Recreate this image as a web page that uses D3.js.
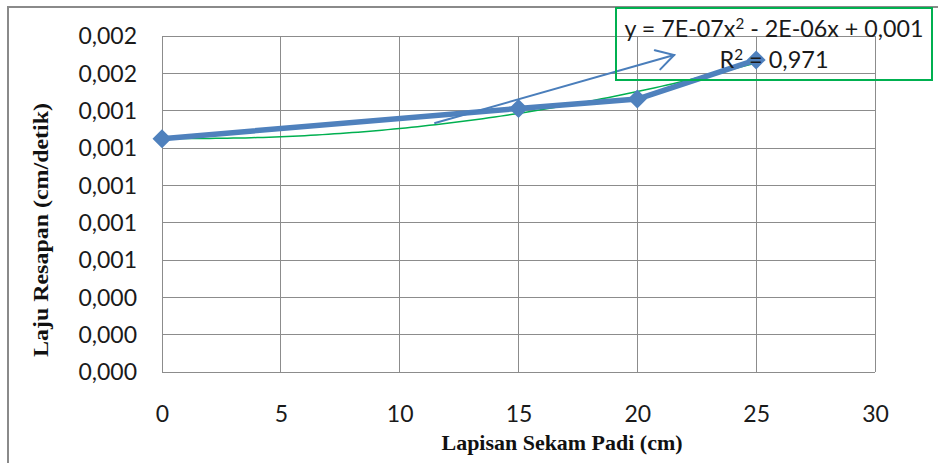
<!DOCTYPE html>
<html>
<head>
<meta charset="utf-8">
<script src="https://cdn.jsdelivr.net/npm/d3@7/dist/d3.min.js"></script>
<style>
  html, body { margin: 0; padding: 0; background: #fff; overflow: hidden; }
  svg { display: block; }
</style>
</head>
<body>
<svg id="chart" width="938" height="463"></svg>
<script>
// Rice-husk layer thickness (cm) vs. infiltration rate (cm/s)
const layerCm = [0, 15, 20, 25];
const rate = [0.001250, 0.001412, 0.001462, 0.001672];

const xTicks = [0, 5, 10, 15, 20, 25, 30];
const yTicks = [0, 0.0002, 0.0004, 0.0006, 0.0008, 0.0010, 0.0012, 0.0014, 0.0016, 0.0018];

const xTitle = "Lapisan Sekam Padi (cm)";
const yTitle = "Laju Resapan (cm/detik)";

// Hand-drawn arrow annotation, in data units [x, y]
const arrowFrom = [11.49, 0.001334];
const arrowTo = [21.55, 0.001698];

const W = 938, H = 463;
const plot = { left: 162, top: 36, right: 875, bottom: 372 };

const svg = d3.select("#chart");

// chart area frame (extends past the right/bottom edges)
svg.append("rect")
  .attr("x", 8).attr("y", 7).attr("width", 1000).attr("height", 600)
  .attr("fill", "none").attr("stroke", "#8a8a8a").attr("stroke-width", 2);

const x = d3.scaleLinear().domain([0, 30]).range([plot.left, plot.right]);
const y = d3.scaleLinear().domain([0, 0.0018]).range([plot.bottom, plot.top]);

const fmtComma = v => v.toFixed(3).replace(".", ",");

// gridlines
const grid = svg.append("g").attr("stroke", "#8c8c8c").attr("stroke-width", 1)
  .attr("shape-rendering", "crispEdges");
grid.selectAll(".gx").data(xTicks).join("line")
  .attr("x1", d => x(d)).attr("x2", d => x(d))
  .attr("y1", plot.top).attr("y2", plot.bottom);
grid.selectAll(".gy").data(yTicks).join("line")
  .attr("x1", plot.left).attr("x2", plot.right)
  .attr("y1", d => y(d)).attr("y2", d => y(d));

// axes (labels only; the grid draws the lines)
const yAxis = d3.axisLeft(y).tickValues(yTicks).tickSize(0).tickPadding(25)
  .tickFormat(fmtComma);
const gy = svg.append("g").attr("transform", `translate(${plot.left},0)`).call(yAxis);
gy.select(".domain").remove();
gy.selectAll("text").attr("font-family", "Lato, sans-serif").attr("font-size", 23)
  .attr("fill", "#1a1a1a").attr("dy", "0.34em");

const xAxis = d3.axisBottom(x).tickValues(xTicks).tickSize(0).tickPadding(34)
  .tickFormat(d3.format("d"));
const gx = svg.append("g").attr("transform", `translate(0,${plot.bottom})`).call(xAxis);
gx.select(".domain").remove();
gx.selectAll("text").attr("font-family", "Lato, sans-serif").attr("font-size", 23)
  .attr("fill", "#1a1a1a");

// axis titles
svg.append("text")
  .attr("x", 562).attr("y", 450)
  .attr("text-anchor", "middle")
  .attr("font-family", "'Liberation Serif', 'Times New Roman', serif")
  .attr("font-weight", "bold").attr("font-size", 21)
  .attr("textLength", 241).attr("lengthAdjust", "spacingAndGlyphs")
  .attr("fill", "#111")
  .text(xTitle);

svg.append("text")
  .attr("transform", "translate(48,230) rotate(-90)")
  .attr("text-anchor", "middle")
  .attr("font-family", "'Liberation Serif', 'Times New Roman', serif")
  .attr("font-weight", "bold").attr("font-size", 21)
  .attr("textLength", 254).attr("lengthAdjust", "spacingAndGlyphs")
  .attr("fill", "#111")
  .text(yTitle);

// least-squares quadratic trendline from the data
function polyFit2(xs, ys) {
  const n = xs.length;
  let s = [0, 0, 0, 0, 0], t = [0, 0, 0];
  for (let i = 0; i < n; i++) {
    for (let k = 0; k <= 4; k++) s[k] += Math.pow(xs[i], k);
    for (let k = 0; k <= 2; k++) t[k] += ys[i] * Math.pow(xs[i], k);
  }
  // solve [[s0 s1 s2][s1 s2 s3][s2 s3 s4]] [c b a] = t
  const M = [[s[0], s[1], s[2], t[0]], [s[1], s[2], s[3], t[1]], [s[2], s[3], s[4], t[2]]];
  for (let i = 0; i < 3; i++) {
    for (let j = i + 1; j < 3; j++) {
      const f = M[j][i] / M[i][i];
      for (let k = i; k < 4; k++) M[j][k] -= f * M[i][k];
    }
  }
  const sol = [0, 0, 0];
  for (let i = 2; i >= 0; i--) {
    let v = M[i][3];
    for (let k = i + 1; k < 3; k++) v -= M[i][k] * sol[k];
    sol[i] = v / M[i][i];
  }
  return { c: sol[0], b: sol[1], a: sol[2] };
}
const fit = polyFit2(layerCm, rate);
const fitFn = v => fit.a * v * v + fit.b * v + fit.c;
const mean = d3.mean(rate);
const ssTot = d3.sum(rate, r => (r - mean) ** 2);
const ssRes = d3.sum(rate, (r, i) => (r - fitFn(layerCm[i])) ** 2);
const r2 = 1 - ssRes / ssTot;

const trendX = d3.range(0, 25.001, 0.25);
svg.append("path")
  .datum(trendX)
  .attr("fill", "none").attr("stroke", "#00b050").attr("stroke-width", 1.5)
  .attr("d", d3.line().x(d => x(d)).y(d => y(fitFn(d))));

// data series
const pts = layerCm.map((v, i) => [v, rate[i]]);
svg.append("path")
  .datum(pts)
  .attr("fill", "none").attr("stroke", "#4f81bd").attr("stroke-width", 5.5)
  .attr("stroke-linejoin", "round")
  .attr("d", d3.line().x(d => x(d[0])).y(d => y(d[1])));

svg.selectAll(".mk").data(pts).join("path")
  .attr("transform", d => `translate(${x(d[0])},${y(d[1])})`)
  .attr("d", "M0,-9.5L9.5,0L0,9.5L-9.5,0Z")
  .attr("fill", "#4f81bd");

// arrow annotation
const ax1 = x(arrowFrom[0]), ay1 = y(arrowFrom[1]);
const ax2 = x(arrowTo[0]), ay2 = y(arrowTo[1]);
const ang = Math.atan2(ay1 - ay2, ax1 - ax2);
const headLen = 20, spread = Math.PI / 6;
const arrow = svg.append("g").attr("stroke", "#4a7ebb").attr("stroke-width", 2)
  .attr("fill", "none").attr("stroke-linecap", "round");
arrow.append("line").attr("x1", ax1).attr("y1", ay1).attr("x2", ax2).attr("y2", ay2);
arrow.append("path")
  .attr("d", `M${ax2 + headLen * Math.cos(ang - spread)},${ay2 + headLen * Math.sin(ang - spread)}` +
             `L${ax2},${ay2}` +
             `L${ax2 + headLen * Math.cos(ang + spread)},${ay2 + headLen * Math.sin(ang + spread)}`);

// trendline equation box
function coef(v) {
  const m = Math.abs(v);
  if (m < 0.001) {
    const [mant, exp] = m.toExponential(0).split("e");
    const e = parseInt(exp, 10);
    return mant + "E" + (e < 0 ? "-" : "+") + String(Math.abs(e)).padStart(2, "0");
  }
  return fmtComma(m);
}
const sgn = v => (v < 0 ? " - " : " + ");

const box = { x: 616, y: 8, w: 316, h: 72 };
svg.append("rect")
  .attr("x", box.x).attr("y", box.y).attr("width", box.w).attr("height", box.h)
  .attr("fill", "none").attr("stroke", "#00b050").attr("stroke-width", 2);

const eq = svg.append("g").attr("font-family", "Lato, sans-serif").attr("font-size", 23)
  .attr("fill", "#1a1a1a").attr("text-anchor", "middle");
const line1 = eq.append("text").attr("x", box.x + box.w / 2).attr("y", 37)
  .attr("textLength", 299).attr("lengthAdjust", "spacingAndGlyphs");
line1.append("tspan").text(`y = ${fit.a < 0 ? "-" : ""}${coef(fit.a)}x`);
line1.append("tspan").attr("dy", -8).attr("font-size", 15).text("2");
line1.append("tspan").attr("dy", 8).text(`${sgn(fit.b)}${coef(fit.b)}x${sgn(fit.c)}${coef(fit.c)}`);

const line2 = eq.append("text").attr("x", box.x + box.w / 2).attr("y", 68)
  .attr("textLength", 109).attr("lengthAdjust", "spacingAndGlyphs");
line2.append("tspan").text("R");
line2.append("tspan").attr("dy", -8).attr("font-size", 15).text("2");
line2.append("tspan").attr("dy", 8).text(` = ${fmtComma(r2)}`);
</script>
</body>
</html>
